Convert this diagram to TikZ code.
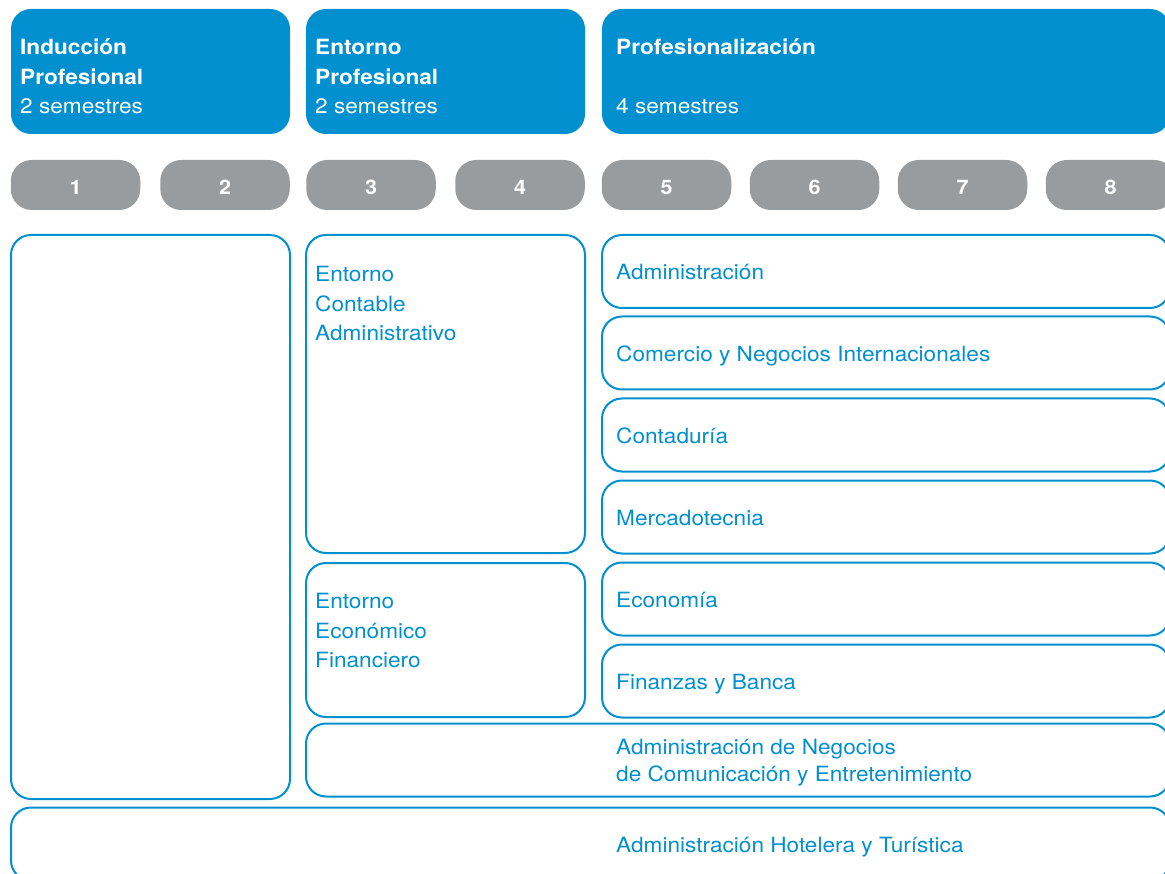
\documentclass[tikz,border=0pt]{standalone}
\usepackage{fontspec}
\setmainfont{TeX Gyre Heros}[FakeStretch=1.077]
\definecolor{ublue}{HTML}{0090D0}
\definecolor{ugrey}{HTML}{989C9F}
\tikzset{
  headbox/.style={draw=none, fill=ublue, rounded corners=20pt, inner sep=0pt},
  pill/.style={draw=none, fill=ugrey, rounded corners=21pt, inner sep=0pt, minimum height=50pt},
  outbox/.style={draw=ublue, line width=2pt, fill=none, rounded corners=20pt, inner sep=0pt},
  headtxt/.style={anchor=base west, inner sep=0pt, text=white, font=\fontsize{21}{25}\selectfont\bfseries},
  headsub/.style={anchor=base west, inner sep=0pt, text=white, font=\fontsize{21}{25}\selectfont},
  numtxt/.style={anchor=base, inner sep=0pt, text=white, font=\fontsize{20}{24}\selectfont\bfseries},
  bodytxt/.style={anchor=base west, inner sep=0pt, text=ublue, font=\fontsize{21}{25}\selectfont},
}
\begin{document}
\begin{tikzpicture}[x=1pt,y=-1pt]
\useasboundingbox (0,0) rectangle (1165,874);
\clip (0,0) rectangle (1165,874);
% header boxes
\node[headbox, minimum width=279pt, minimum height=125pt] (h1) at (150.5,71.5) {};
\node[headbox, minimum width=279pt, minimum height=125pt] (h2) at (445.5,71.5) {};
\node[headbox, minimum width=568pt, minimum height=125pt] (h3) at (886,71.5) {};
\node[headtxt] (h1a) at (20,55) {Inducción};
\node[headtxt] (h1b) at (20,84.5) {Profesional};
\node[headsub] (h1c) at (20,114) {2 semestres};
\node[headtxt] (h2a) at (315,55) {Entorno};
\node[headtxt] (h2b) at (315,84.5) {Profesional};
\node[headsub] (h2c) at (315,114) {2 semestres};
\node[headtxt] (h3a) at (616,55) {Profesionalización};
\node[headsub] (h3c) at (616,114) {4 semestres};
% semester pills
\foreach \i/\cx in {1/75.5,2/225,3/371,4/520,5/666.5,6/814.5,7/962.5,8/1110.5}{
  \node[pill, minimum width=129.5pt] (s\i) at (\cx,185) {};
  \node[numtxt] (n\i) at (\cx,195) {\i};
}
% content boxes
\node[outbox, minimum width=279pt, minimum height=564pt] (left) at (150.5,517) {};
\node[outbox, minimum width=279pt, minimum height=318pt] (eca) at (445.5,394) {};
\node[outbox, minimum width=279pt, minimum height=154pt] (eef) at (445.5,640) {};
\node[outbox, minimum width=568pt, minimum height=73pt] (adm) at (886,271.5) {};
\node[outbox, minimum width=568pt, minimum height=73pt] (com) at (886,353) {};
\node[outbox, minimum width=568pt, minimum height=73pt] (con) at (886,435) {};
\node[outbox, minimum width=568pt, minimum height=73pt] (mer) at (886,517) {};
\node[outbox, minimum width=568pt, minimum height=73pt] (eco) at (886,599) {};
\node[outbox, minimum width=568pt, minimum height=73pt] (fin) at (886,681) {};
\node[outbox, minimum width=864pt, minimum height=73pt] (anc) at (738,760) {};
\node[outbox, minimum width=1159pt, minimum height=73pt] (hot) at (590.5,844) {};
% texts
\node[bodytxt] (t1) at (315,282) {Entorno};
\node[bodytxt] (t2) at (315,311.5) {Contable};
\node[bodytxt] (t3) at (315,341) {Administrativo};
\node[bodytxt] (t4) at (315,608.5) {Entorno};
\node[bodytxt] (t5) at (315,638) {Económico};
\node[bodytxt] (t6) at (315,667.5) {Financiero};
\node[bodytxt] (t7) at (616,280) {Administración};
\node[bodytxt] (t8) at (616,362) {Comercio y Negocios Internacionales};
\node[bodytxt] (t9) at (616,443.5) {Contaduría};
\node[bodytxt] (t10) at (616,525.5) {Mercadotecnia};
\node[bodytxt] (t11) at (616,607.5) {Economía};
\node[bodytxt] (t12) at (616,689.5) {Finanzas y Banca};
\node[bodytxt] (t13) at (616,754) {Administración de Negocios};
\node[bodytxt] (t14) at (616,781.5) {de Comunicación y Entretenimiento};
\node[bodytxt] (t15) at (616,852.5) {Administración Hotelera y Turística};
\end{tikzpicture}
\end{document}
